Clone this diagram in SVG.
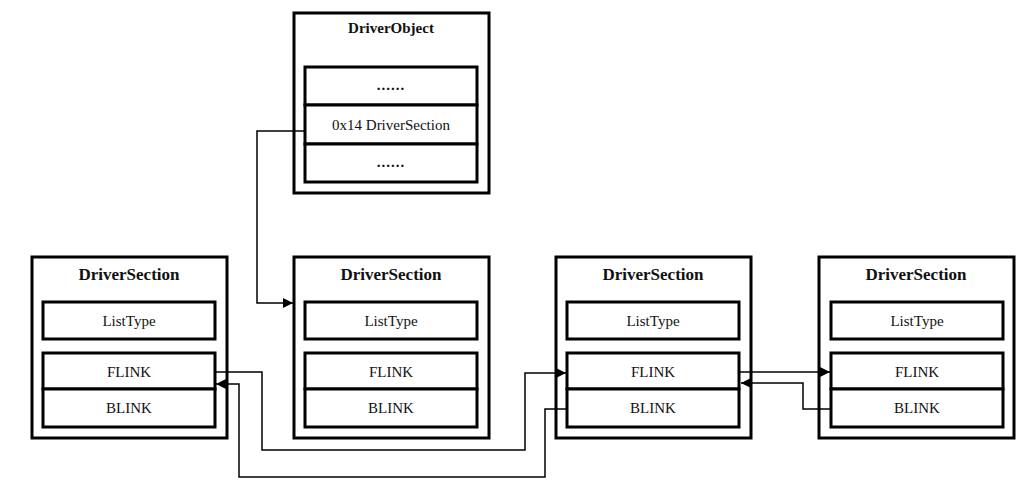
<svg xmlns="http://www.w3.org/2000/svg" width="1035" height="492" viewBox="0 0 1035 492">
<defs>
<marker id="arr" viewBox="0 0 10 10" refX="10" refY="5" markerWidth="10" markerHeight="10" markerUnits="userSpaceOnUse" orient="auto"><path d="M0,0 L10,5 L0,10 z" fill="#000"/></marker>
</defs>
<style>
.outer{fill:#fff;stroke:#000;stroke-width:3}
.inner{fill:#fff;stroke:#000;stroke-width:3}
.title{font-family:"Liberation Serif",serif;font-size:17px;font-weight:bold;text-anchor:middle;fill:#111}
.otitle{font-family:"Liberation Serif",serif;font-size:15px;font-weight:bold;text-anchor:middle;fill:#111}
.lbl{font-family:"Liberation Serif",serif;font-size:15px;text-anchor:middle;fill:#111}
.dots{font-family:"Liberation Serif",serif;font-size:15px;font-weight:bold;letter-spacing:1px;text-anchor:middle;fill:#111}
.conn{fill:none;stroke:#000;stroke-width:1.5}
</style>
<rect width="1035" height="492" fill="#fff"/>
<g id="driverObject">
<rect class="outer" x="294" y="13" width="195" height="180"/>
<text class="otitle" x="391" y="33">DriverObject</text>
<rect class="inner" x="305" y="67" width="172" height="38"/>
<text class="dots" x="391" y="90">......</text>
<rect class="inner" x="305" y="105" width="172" height="39"/>
<text class="lbl" x="391" y="130">0x14 DriverSection</text>
<rect class="inner" x="305" y="144" width="172" height="38"/>
<text class="dots" x="391" y="167">......</text>
</g>
<g id="section1">
<rect class="outer" x="32" y="257" width="195" height="181"/>
<text class="title" x="129" y="280">DriverSection</text>
<rect class="inner" x="43" y="302" width="172" height="37"/>
<text class="lbl" x="129" y="326">ListType</text>
<rect class="inner" x="43" y="353" width="172" height="36"/>
<text class="lbl" x="129" y="377">FLINK</text>
<rect class="inner" x="43" y="389" width="172" height="38"/>
<text class="lbl" x="129" y="413">BLINK</text>
</g>
<g id="section2">
<rect class="outer" x="294" y="257" width="195" height="181"/>
<text class="title" x="391" y="280">DriverSection</text>
<rect class="inner" x="305" y="302" width="172" height="37"/>
<text class="lbl" x="391" y="326">ListType</text>
<rect class="inner" x="305" y="353" width="172" height="36"/>
<text class="lbl" x="391" y="377">FLINK</text>
<rect class="inner" x="305" y="389" width="172" height="38"/>
<text class="lbl" x="391" y="413">BLINK</text>
</g>
<g id="section3">
<rect class="outer" x="556" y="257" width="195" height="181"/>
<text class="title" x="653" y="280">DriverSection</text>
<rect class="inner" x="567" y="302" width="172" height="37"/>
<text class="lbl" x="653" y="326">ListType</text>
<rect class="inner" x="567" y="353" width="172" height="36"/>
<text class="lbl" x="653" y="377">FLINK</text>
<rect class="inner" x="567" y="389" width="172" height="38"/>
<text class="lbl" x="653" y="413">BLINK</text>
</g>
<g id="section4">
<rect class="outer" x="819" y="257" width="195" height="181"/>
<text class="title" x="916" y="280">DriverSection</text>
<rect class="inner" x="831" y="302" width="172" height="37"/>
<text class="lbl" x="917" y="326">ListType</text>
<rect class="inner" x="831" y="353" width="172" height="36"/>
<text class="lbl" x="917" y="377">FLINK</text>
<rect class="inner" x="831" y="389" width="172" height="38"/>
<text class="lbl" x="917" y="413">BLINK</text>
</g>
<g id="connectors">
<path class="conn" d="M305,131 H257 V303 H293" marker-end="url(#arr)"/>
<path class="conn" d="M216,372 H262 V450 H525 V373 H566" marker-end="url(#arr)"/>
<path class="conn" d="M567,409 H545 V477 H239 V384 H216" marker-end="url(#arr)"/>
<path class="conn" d="M740,372 H830" marker-end="url(#arr)"/>
<path class="conn" d="M831,409 H803 V383 H741" marker-end="url(#arr)"/>
</g>
</svg>
